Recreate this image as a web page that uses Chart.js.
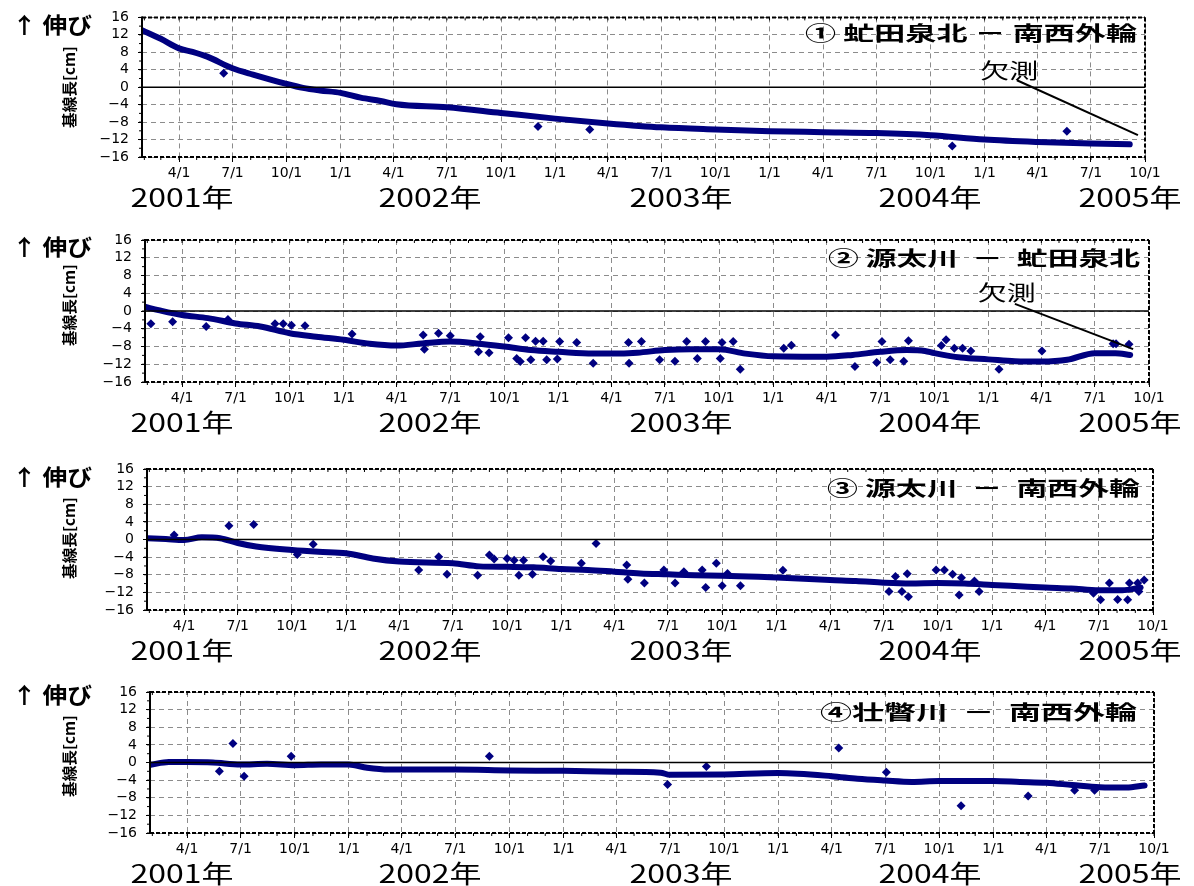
<!DOCTYPE html>
<html>
<head>
<meta charset="utf-8">
<script src="https://cdn.jsdelivr.net/npm/chart.js@4.4.1/dist/chart.umd.min.js"></script>
<style>
  body { margin: 0; background: #fff; width: 1194px; height: 886px; overflow: hidden; position: relative; }
  canvas { position: absolute; left: 0; }
</style>
</head>
<body>
<canvas id="c1"></canvas>
<canvas id="c2"></canvas>
<canvas id="c3"></canvas>
<canvas id="c4"></canvas>
<script>
// quarter ticks on the time axis
var quarterDates = ['2001-04-01','2001-07-01','2001-10-01','2002-01-01','2002-04-01','2002-07-01','2002-10-01',
  '2003-01-01','2003-04-01','2003-07-01','2003-10-01','2004-01-01','2004-04-01','2004-07-01','2004-10-01',
  '2005-01-01','2005-04-01','2005-07-01','2005-10-01'];
var tickLabels = ['4/1','7/1','10/1','1/1','4/1','7/1','10/1','1/1','4/1','7/1','10/1','1/1','4/1','7/1','10/1',
  '1/1','4/1','7/1','10/1'];
var yearLabels = ['2001年','2002年','2003年','2004年','2005年'];
var titles = ['① 虻田泉北 － 南西外輪', '② 源太川  －  虻田泉北', '③ 源太川  －  南西外輪', '④壮瞥川  －  南西外輪'];
var axisStart = '2001-01-28';
var axisEnd = '2005-10-01';

// ① 虻田泉北 - 南西外輪
var p1Dates = ['2001-01-29','2001-03-01','2001-04-01','2001-04-24','2001-05-19','2001-07-01','2001-08-05','2001-10-01',
  '2001-10-29','2001-11-27','2002-01-01','2002-02-04','2002-03-10','2002-04-06','2002-07-01','2002-10-01',
  '2003-01-01','2003-04-01','2003-07-01','2003-10-01','2004-01-01','2004-04-01','2004-07-01','2004-10-01',
  '2005-01-01','2005-04-01','2005-07-01','2005-09-05'];
var p1Vals = [13.0,11.1,8.9,8.1,7.0,4.35,2.9,0.75,-0.15,-0.75,-1.3,-2.4,-3.15,-3.9,-4.6,-5.9,
  -7.2,-8.3,-9.2,-9.7,-10.1,-10.3,-10.5,-11.0,-12.0,-12.55,-12.9,-13.1];
var p1OutDates = ['2001-06-16','2002-12-03','2003-03-01','2004-11-07','2005-05-21'];
var p1OutVals = [3.2,-9.0,-9.7,-13.5,-10.1];

// ② 源太川 - 虻田泉北
var p2Dates = ['2001-01-29','2001-02-20','2001-04-01','2001-05-15','2001-07-01','2001-08-12','2001-10-01','2001-11-15',
  '2002-01-01','2002-02-14','2002-04-01','2002-05-15','2002-07-01','2002-08-15','2002-10-01','2002-11-15',
  '2003-01-01','2003-03-01','2003-04-01','2003-05-15','2003-07-01','2003-08-15','2003-10-01','2003-11-15',
  '2004-01-01','2004-04-01','2004-05-15','2004-07-01','2004-08-15','2004-09-15','2004-10-01','2004-11-15',
  '2005-01-01','2005-02-15','2005-04-01','2005-05-15','2005-07-01','2005-08-05','2005-08-30'];
var p2Vals = [0.9,0.2,-0.9,-1.6,-2.8,-3.5,-5.0,-5.8,-6.5,-7.4,-7.8,-7.3,-6.9,-7.3,-8.0,-8.8,
  -9.2,-9.6,-9.6,-9.4,-8.8,-8.6,-8.6,-9.6,-10.2,-10.3,-9.9,-9.2,-8.8,-9.0,-9.5,-10.5,
  -10.9,-11.3,-11.4,-11.0,-9.5,-9.5,-9.9];
var p2OutDates = ['2001-02-07','2001-03-16','2001-05-12','2001-06-18','2001-09-06','2001-09-20','2001-10-04','2001-10-27',
  '2002-01-15','2002-05-16','2002-06-11','2002-07-01','2002-05-18','2002-08-21','2002-08-18','2002-09-05','2002-10-08',
  '2002-11-06','2002-11-23','2002-12-06','2003-01-03','2003-02-01','2002-10-22','2002-10-28','2002-11-15','2002-12-12',
  '2002-12-30','2003-03-01','2003-04-30','2003-05-01','2003-05-22','2003-06-22','2003-07-18','2003-08-07','2003-09-08',
  '2003-08-25','2003-10-06','2003-10-25','2003-10-03','2003-11-06','2004-01-19','2004-02-01','2004-04-16','2004-05-19',
  '2004-06-25','2004-07-04','2004-07-18','2004-08-10','2004-08-18','2004-10-13','2004-10-21','2004-11-04','2004-11-18',
  '2004-12-02','2005-01-19','2005-04-02','2005-08-01','2005-08-06','2005-08-28'];
var p2OutVals = [-2.9,-2.4,-3.5,-1.9,-2.9,-2.9,-3.2,-3.3,
  -5.2,-5.4,-5.0,-5.6,-8.6,-5.8,-9.2,-9.4,-6.0,
  -6.0,-6.8,-6.8,-6.9,-7.1,-10.7,-11.4,-11.0,-11.0,
  -10.8,-11.8,-7.1,-11.8,-6.9,-11.0,-11.3,-6.9,-6.9,
  -10.7,-7.1,-6.9,-10.7,-13.1,-8.4,-7.7,-5.4,-12.5,
  -11.6,-6.9,-11.0,-11.3,-6.7,-7.8,-6.5,-8.4,-8.4,
  -9.0,-13.1,-9.0,-7.4,-7.4,-7.5];

// ③ 源太川 - 南西外輪
var p3Dates = ['2001-01-29','2001-03-01','2001-04-01','2001-05-01','2001-06-01','2001-07-01','2001-08-01','2001-10-01',
  '2001-11-15','2002-01-01','2002-02-15','2002-04-01','2002-07-01','2002-08-15','2002-10-01','2002-11-15',
  '2003-01-01','2003-02-15','2003-04-01','2003-05-15','2003-07-01','2003-08-15','2003-10-01','2003-11-15',
  '2004-01-01','2004-04-01','2004-05-15','2004-07-01','2004-08-15','2004-10-01','2004-11-15',
  '2005-01-01','2005-02-15','2005-04-01','2005-05-15','2005-07-01','2005-08-10','2005-09-10'];
var p3Vals = [0.3,0.1,-0.1,0.5,0.3,-0.8,-1.6,-2.4,-2.8,-3.1,-4.3,-5.0,-5.4,-6.1,-6.2,-6.3,
  -6.7,-6.9,-7.3,-7.7,-7.9,-8.1,-8.2,-8.4,-8.6,-9.2,-9.4,-9.8,-10.0,-9.9,-10.0,
  -10.3,-10.6,-10.9,-11.1,-11.5,-11.5,-10.9];
var p3OutDates = ['2001-03-15','2001-06-16','2001-07-28','2001-10-10','2001-11-06','2002-05-04','2002-06-07','2002-06-21',
  '2002-08-12','2002-09-01','2002-09-09','2002-10-01','2002-10-13','2002-10-21','2002-10-29','2002-11-13','2002-12-01',
  '2002-12-14','2003-02-04','2003-03-01','2003-04-22','2003-04-24','2003-05-22','2003-06-24','2003-07-13','2003-07-28',
  '2003-08-28','2003-09-03','2003-09-21','2003-10-01','2003-10-10','2003-11-01','2004-01-12','2004-07-10','2004-07-21',
  '2004-08-01','2004-08-10','2004-08-12','2004-09-28','2004-10-12','2004-10-26','2004-11-06','2004-11-10','2004-12-02',
  '2004-12-10','2005-06-22','2005-07-04','2005-07-19','2005-08-02','2005-08-19','2005-08-22','2005-09-05','2005-09-07',
  '2005-09-16'];
var p3OutVals = [1.0,3.1,3.4,-3.4,-1.1,-6.9,-3.9,-7.9,
  -8.1,-3.5,-4.4,-4.3,-4.7,-8.1,-4.7,-7.9,-3.9,
  -4.9,-5.4,-0.9,-5.8,-9.0,-9.9,-6.9,-9.9,-7.3,
  -6.9,-10.9,-5.4,-10.5,-7.7,-10.5,-7.0,-11.8,-8.4,
  -11.8,-7.8,-13.0,-6.9,-6.9,-7.9,-12.6,-8.7,-9.4,
  -11.8,-12.2,-13.7,-9.9,-13.6,-13.7,-9.9,-9.9,-11.8,
  -9.2];

// ④ 壮瞥川 - 南西外輪
var p4Dates = ['2001-01-29','2001-03-01','2001-04-01','2001-05-15','2001-07-01','2001-08-15','2001-10-01','2001-11-15',
  '2002-01-01','2002-02-01','2002-03-10','2002-07-01','2002-10-01','2003-01-01','2003-04-01','2003-06-15',
  '2003-07-01','2003-10-01','2004-01-01','2004-04-01','2004-05-15','2004-07-01','2004-08-15','2004-10-01',
  '2004-11-15','2005-01-01','2005-02-15','2005-04-01','2005-05-15','2005-07-01','2005-08-15','2005-09-15'];
var p4Vals = [-0.5,0.1,0.1,0.0,-0.45,-0.3,-0.6,-0.45,-0.45,-1.2,-1.6,-1.6,-1.8,-1.9,-2.1,-2.3,
  -2.8,-2.7,-2.4,-3.1,-3.7,-4.1,-4.4,-4.2,-4.2,-4.2,-4.4,-4.6,-5.1,-5.6,-5.7,-5.2];
var p4OutDates = ['2001-05-26','2001-06-18','2001-07-07','2001-09-25','2002-08-28','2003-06-27','2003-09-01',
  '2004-04-13','2004-07-03','2004-11-07','2005-03-01','2005-05-19','2005-06-22'];
var p4OutVals = [-2.0,4.3,-3.1,1.4,1.4,-5.0,-0.9,3.3,-2.2,-9.8,-7.6,-6.3,-6.3];

// 欠測 notes (date, value) for panels 1 and 2
var missNoteP1 = { text: ['2005-02-12', 4.05], from: ['2005-02-25', 1.6], to: ['2005-09-19', -11.0] };
var missNoteP2 = { text: ['2005-02-01', 4.3], from: ['2005-02-15', 1.6], to: ['2005-09-04', -8.6] };

var navy = '#000080';
var jp = "'Noto Sans CJK JP', sans-serif";

function dayNum(s) {
  var p = s.split('-').map(Number);
  return (Date.UTC(p[0], p[1] - 1, p[2]) - Date.UTC(2001, 0, 1)) / 864e5;
}

function toPoints(dates, vals) {
  return dates.map(function (d, i) { return { x: dayNum(d), y: vals[i] }; });
}

// draw text squeezed/stretched into a given width
function fitText(ctx, text, cx, cy, w, font, rot) {
  ctx.save();
  ctx.font = font;
  ctx.textAlign = 'center';
  ctx.textBaseline = 'middle';
  ctx.fillStyle = '#000';
  var m = ctx.measureText(text).width;
  ctx.translate(cx, cy);
  if (rot) ctx.rotate(rot);
  ctx.scale(w / m, 1);
  ctx.fillText(text, 0, 0);
  ctx.restore();
}

var panels = [
  { id: 'c1', top: 0,   plotTop: 15,  plotH: 142, left: 142, right: 1145, title: 0, titleBox: [805, 1137], titleY: 33,  arrowY: 25,  unitY: 87,  note: missNoteP1 },
  { id: 'c2', top: 222, plotTop: 240, plotH: 142, left: 145, right: 1149, title: 1, titleBox: [828, 1140], titleY: 258, arrowY: 247, unitY: 305, note: missNoteP2 },
  { id: 'c3', top: 450, plotTop: 469, plotH: 141, left: 147, right: 1153, title: 2, titleBox: [827, 1140], titleY: 488, arrowY: 477, unitY: 538, note: null },
  { id: 'c4', top: 672, plotTop: 692, plotH: 141, left: 150, right: 1154, title: 3, titleBox: [820, 1137], titleY: 712, arrowY: 695, unitY: 756, note: null }
];
var canvasH = 214;
var yearX = [182, 430, 681, 930, 1130];

function decor(cfg) {
  return {
    id: 'decor',
    afterDatasetsDraw: function (chart) {
      var ctx = chart.ctx, a = chart.chartArea, xs = chart.scales.x, ys = chart.scales.y;
      var off = cfg.top;
      ctx.save();
      // zero line
      var y0 = ys.getPixelForValue(0);
      ctx.strokeStyle = '#000';
      ctx.lineWidth = 1.5;
      ctx.beginPath(); ctx.moveTo(a.left, y0); ctx.lineTo(a.right, y0); ctx.stroke();
      // frame
      ctx.lineWidth = 2;
      ctx.setLineDash([4, 2]);
      ctx.beginPath();
      ctx.moveTo(a.left, a.top); ctx.lineTo(a.right, a.top);
      ctx.moveTo(a.right, a.top); ctx.lineTo(a.right, a.bottom);
      ctx.moveTo(a.left, a.bottom); ctx.lineTo(a.right, a.bottom);
      ctx.stroke();
      ctx.setLineDash([]);
      ctx.beginPath(); ctx.moveTo(a.left, a.top - 1); ctx.lineTo(a.left, a.bottom + 1); ctx.stroke();
      // monthly minor ticks
      ctx.lineWidth = 1;
      ctx.beginPath();
      for (var yr = 2001; yr <= 2005; yr++) {
        for (var mo = 1; mo <= 12; mo++) {
          var d = dayNum(yr + '-' + mo + '-1');
          if (d < xs.min || d > xs.max) continue;
          var px = xs.getPixelForValue(d);
          ctx.moveTo(px, a.bottom); ctx.lineTo(px, a.bottom + 3);
          ctx.moveTo(px, a.top); ctx.lineTo(px, a.top + 3);
        }
      }
      for (var v = -16; v <= 16; v += 2) {
        var py = ys.getPixelForValue(v);
        ctx.moveTo(a.left - 3, py); ctx.lineTo(a.left, py);
      }
      ctx.stroke();
      ctx.restore();

      // left labels
      fitText(ctx, '↑ 伸び', 52, cfg.arrowY - off, 80, 'bold 22px ' + jp);
      fitText(ctx, '基線長[cm]', 69, cfg.unitY - off, 82, 'bold 15px ' + jp, -Math.PI / 2);
      // title
      var tb = cfg.titleBox;
      fitText(ctx, titles[cfg.title], (tb[0] + tb[1]) / 2, cfg.titleY - off, tb[1] - tb[0], 'bold 20px ' + jp);
      // year labels
      yearLabels.forEach(function (t, i) {
        fitText(ctx, t, yearX[i], a.bottom + 40, 103, '25px ' + jp);
      });
      // 欠測
      if (cfg.note) {
        var n = cfg.note;
        fitText(ctx, '欠測', xs.getPixelForValue(dayNum(n.text[0])), ys.getPixelForValue(n.text[1]), 58, '21px ' + jp);
        ctx.save();
        ctx.strokeStyle = '#000';
        ctx.lineWidth = 2;
        ctx.beginPath();
        ctx.moveTo(xs.getPixelForValue(dayNum(n.from[0])), ys.getPixelForValue(n.from[1]));
        ctx.lineTo(xs.getPixelForValue(dayNum(n.to[0])), ys.getPixelForValue(n.to[1]));
        ctx.stroke();
        ctx.restore();
      }
    }
  };
}

function makeChart(cfg, bandDates, bandVals, outDates, outVals) {
  var canvas = document.getElementById(cfg.id);
  canvas.width = 1194;
  canvas.height = canvasH;
  canvas.style.top = cfg.top + 'px';
  var padTop = cfg.plotTop - cfg.top;
  new Chart(canvas, {
    type: 'scatter',
    data: {
      datasets: [
        {
          data: toPoints(bandDates, bandVals),
          showLine: true,
          borderColor: navy,
          borderWidth: 6,
          borderCapStyle: 'round',
          borderJoinStyle: 'round',
          cubicInterpolationMode: 'monotone',
          pointRadius: 0
        },
        {
          data: toPoints(outDates, outVals),
          pointStyle: 'rectRot',
          pointRadius: 4.5,
          backgroundColor: navy,
          borderColor: navy,
          borderWidth: 0
        }
      ]
    },
    options: {
      responsive: false,
      animation: false,
      events: [],
      layout: { padding: { left: 0, right: 1194 - cfg.right, top: padTop, bottom: 0 } },
      plugins: { legend: { display: false }, tooltip: { enabled: false } },
      scales: {
        x: {
          type: 'linear',
          min: dayNum(axisStart),
          max: dayNum(axisEnd),
          afterBuildTicks: function (s) {
            s.ticks = quarterDates.map(function (d) { return { value: dayNum(d) }; });
          },
          afterFit: function (s) { s.height = canvasH - padTop - cfg.plotH; },
          ticks: {
            autoSkip: false,
            maxRotation: 0,
            color: '#000',
            padding: 3,
            font: { family: 'DejaVu Sans', size: 14 },
            callback: function (v, i) { return tickLabels[i]; }
          },
          grid: { color: '#8c8c8c', lineWidth: 1, tickLength: 5, tickColor: '#000', tickWidth: 1, tickBorderDash: [] },
          border: { display: false, dash: [5, 4] }
        },
        y: {
          min: -16,
          max: 16,
          afterFit: function (s) { s.width = cfg.left; },
          ticks: {
            stepSize: 4,
            autoSkip: false,
            color: '#000',
            padding: 9,
            font: { family: 'DejaVu Sans', size: 14 },
            callback: function (v) { return v < 0 ? '\u2212' + Math.abs(v) : String(v); }
          },
          grid: { color: '#8c8c8c', lineWidth: 1, tickLength: 4, tickColor: '#000', tickWidth: 1, tickBorderDash: [] },
          border: { display: false, dash: [5, 4] }
        }
      }
    },
    plugins: [decor(cfg)]
  });
}

makeChart(panels[0], p1Dates, p1Vals, p1OutDates, p1OutVals);
makeChart(panels[1], p2Dates, p2Vals, p2OutDates, p2OutVals);
makeChart(panels[2], p3Dates, p3Vals, p3OutDates, p3OutVals);
makeChart(panels[3], p4Dates, p4Vals, p4OutDates, p4OutVals);
</script>
</body>
</html>
